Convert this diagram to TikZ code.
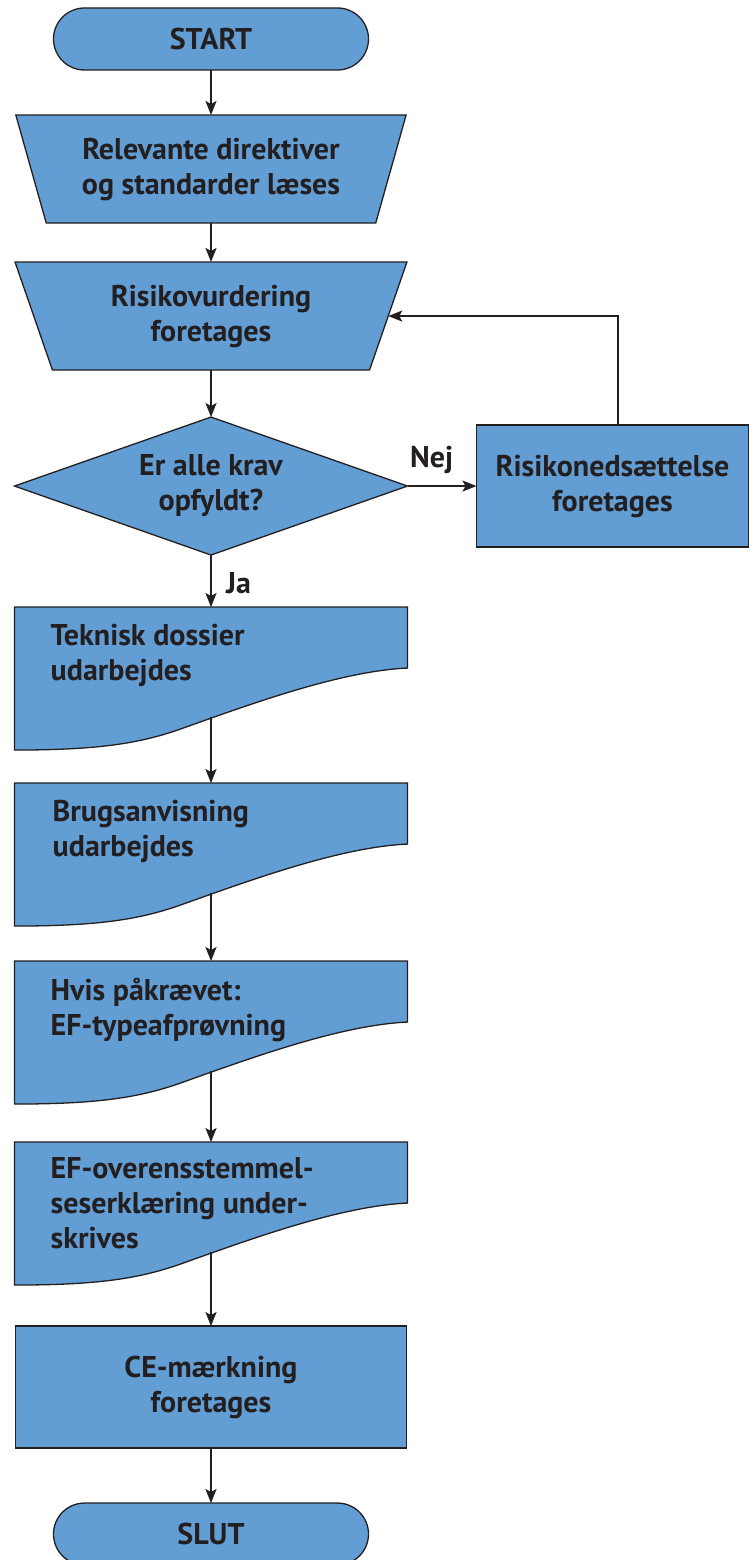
\documentclass[tikz,border=0pt]{standalone}
\usepackage{fontspec}
\setmainfont{PT Sans}
\usetikzlibrary{positioning,shapes.geometric,arrows.meta}
\definecolor{boxblue}{RGB}{98,158,212}
\definecolor{inkgray}{RGB}{35,31,32}

\begin{document}
\begin{tikzpicture}[x=1pt, y=-1pt,
    every node/.style={font=\fontsize{30}{35}\selectfont\bfseries, text=inkgray},
    shapeline/.style={draw=inkgray, line width=1.3pt, fill=boxblue, outer sep=0pt},
    terminal/.style={shapeline, rectangle, rounded corners=31pt, minimum width=315pt, minimum height=62pt, inner sep=0pt},
    manual/.style={shapeline, trapezium, trapezium stretches=true, trapezium angle=70.6, shape border rotate=180, minimum width=392pt, minimum height=108pt, align=center},
    decision/.style={shapeline, diamond, aspect=2.85, minimum width=393pt, minimum height=138pt, inner sep=0pt, align=center},
    process/.style={shapeline, rectangle, minimum height=122pt, align=center},
    docbox/.style={rectangle, minimum width=393pt, minimum height=143pt, inner sep=0pt, outer sep=0pt},
    doctext/.style={anchor=north west, align=left, inner sep=0pt},
    flow/.style={draw=inkgray, line width=2pt, -{Stealth[length=14pt, width=11pt, inset=3pt]}},
    lbl/.style={inner sep=0pt}]
    \useasboundingbox (0,0) rectangle (749,1560);

    \node[terminal] (start) at (211,39) {START};
    \node[manual, below=45pt of start] (direktiver) {Relevante direktiver\\og standarder læses};
    \node[manual, below=39pt of direktiver] (vurdering) {Risikovurdering\\foretages};
    \node[decision, below=47pt of vurdering] (krav) {Er alle krav\\opfyldt?};
    \node[process, minimum width=272pt, right=69pt of krav] (nedsaet) {Risikonedsættelse\\foretages};
    \node[docbox, below=52pt of krav] (dossier) {};
    \node[docbox, below=33pt of dossier] (anvisning) {};
    \node[docbox, below=35pt of anvisning] (afproevning) {};
    \node[docbox, below=38pt of afproevning] (erklaering) {};
    \node[process, minimum width=391pt, below=41pt of erklaering] (maerkning) {CE-mærkning\\foretages};
    \node[terminal, below=55pt of maerkning] (slut) {SLUT};

    % document outlines with wavy bottom
    \foreach \doc in {dossier,anvisning,afproevning,erklaering}{
        \draw[shapeline] (\doc.south west) -- (\doc.north west) -- (\doc.north east) -- ([yshift=82pt]\doc.south east)
            .. controls +(-67pt,-3pt) and +(70pt,25pt) .. ([xshift=166pt,yshift=21pt]\doc.south west)
            .. controls +(-40pt,-14pt) and +(86pt,0pt) .. (\doc.south west) -- cycle;
        \coordinate (\doc-w) at ([yshift=33pt]\doc.south);
    }
    \node[doctext] (dossier-t) at ([xshift=36pt,yshift=-17pt]dossier.north west) {Teknisk dossier\\udarbejdes};
    \node[doctext] (anvisning-t) at ([xshift=38pt,yshift=-17pt]anvisning.north west) {Brugsanvisning\\udarbejdes};
    \node[doctext] (afproevning-t) at ([xshift=36pt,yshift=-17pt]afproevning.north west) {Hvis påkrævet:\\EF-typeafprøvning};
    \node[doctext] (erklaering-t) at ([xshift=36pt,yshift=-15pt]erklaering.north west) {EF-overensstemmel-\\seserklæring under-\\skrives};

    \draw[flow] (start.south) -- (direktiver.north);
    \draw[flow] (direktiver.south) -- (vurdering.north);
    \draw[flow] (vurdering.south) -- (krav.north);
    \draw[flow] (krav.east) -- node[lbl, above=11pt, pos=.35] (nej) {Nej} (nedsaet.west);
    \draw[flow] ([xshift=5pt]nedsaet.north) |- (vurdering.east);
    \draw[flow] (krav.south) -- node[lbl, right=14pt, pos=.55] (ja) {Ja} (dossier.north);
    \draw[flow] (dossier-w) -- (anvisning.north);
    \draw[flow] (anvisning-w) -- (afproevning.north);
    \draw[flow] (afproevning-w) -- (erklaering.north);
    \draw[flow] (erklaering-w) -- (maerkning.north);
    \draw[flow] (maerkning.south) -- (slut.north);
\end{tikzpicture}
\end{document}
